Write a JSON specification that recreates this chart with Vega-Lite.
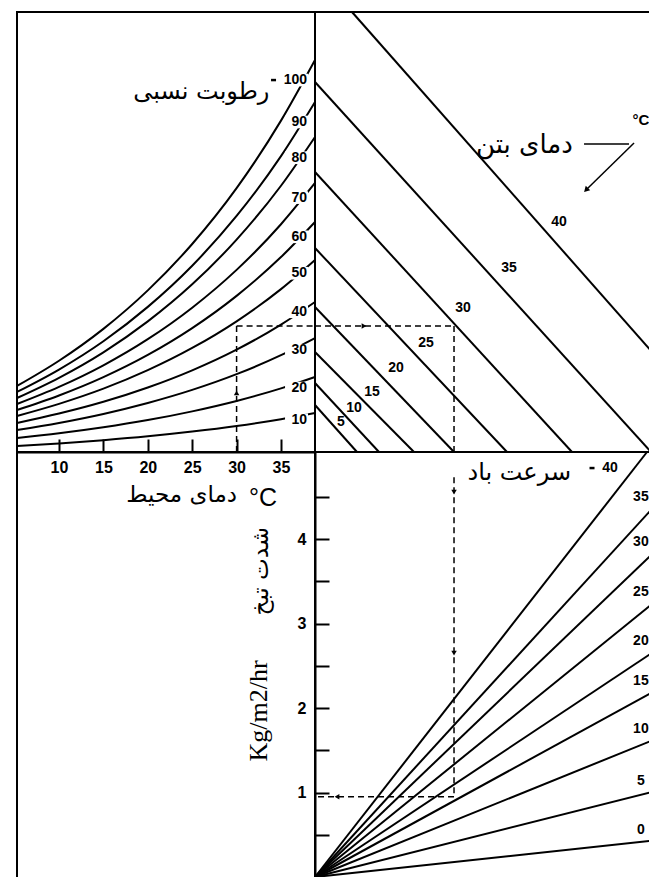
{
 "$schema": "https://vega.github.io/schema/vega-lite/v6.json",
 "background": "white",
 "padding": {"left": 12, "top": 11, "right": 0, "bottom": 0},
 "config": {"view": {"stroke": null}, "concat": {"spacing": 0}},
 "datasets": {
  "rh": [
   {"rh":100,"t":5.27,"p":0.960},{"rh":100,"t":10,"p":1.327},{"rh":100,"t":15,"p":1.791},{"rh":100,"t":20,"p":2.351},{"rh":100,"t":25,"p":3.025},{"rh":100,"t":30,"p":3.837},{"rh":100,"t":35,"p":4.820},{"rh":100,"t":38.83,"p":5.702},
   {"rh":90,"t":5.27,"p":0.873},{"rh":90,"t":10,"p":1.199},{"rh":90,"t":15,"p":1.611},{"rh":90,"t":20,"p":2.111},{"rh":90,"t":25,"p":2.710},{"rh":90,"t":30,"p":3.433},{"rh":90,"t":35,"p":4.304},{"rh":90,"t":38.83,"p":5.091},
   {"rh":80,"t":5.27,"p":0.785},{"rh":80,"t":10,"p":1.079},{"rh":80,"t":15,"p":1.450},{"rh":80,"t":20,"p":1.900},{"rh":80,"t":25,"p":2.439},{"rh":80,"t":30,"p":3.089},{"rh":80,"t":35,"p":3.873},{"rh":80,"t":38.83,"p":4.582},
   {"rh":70,"t":5.27,"p":0.698},{"rh":70,"t":10,"p":0.947},{"rh":70,"t":15,"p":1.261},{"rh":70,"t":20,"p":1.641},{"rh":70,"t":25,"p":2.099},{"rh":70,"t":30,"p":2.649},{"rh":70,"t":35,"p":3.313},{"rh":70,"t":38.83,"p":3.913},
   {"rh":60,"t":5.27,"p":0.611},{"rh":60,"t":10,"p":0.822},{"rh":60,"t":15,"p":1.089},{"rh":60,"t":20,"p":1.412},{"rh":60,"t":25,"p":1.802},{"rh":60,"t":30,"p":2.271},{"rh":60,"t":35,"p":2.835},{"rh":60,"t":38.83,"p":3.345},
   {"rh":50,"t":5.27,"p":0.524},{"rh":50,"t":10,"p":0.700},{"rh":50,"t":15,"p":0.921},{"rh":50,"t":20,"p":1.190},{"rh":50,"t":25,"p":1.513},{"rh":50,"t":30,"p":1.901},{"rh":50,"t":35,"p":2.369},{"rh":50,"t":38.83,"p":2.793},
   {"rh":40,"t":5.27,"p":0.422},{"rh":40,"t":10,"p":0.559},{"rh":40,"t":15,"p":0.730},{"rh":40,"t":20,"p":0.938},{"rh":40,"t":25,"p":1.188},{"rh":40,"t":30,"p":1.489},{"rh":40,"t":35,"p":1.853},{"rh":40,"t":38.83,"p":2.182},
   {"rh":30,"t":5.27,"p":0.320},{"rh":30,"t":10,"p":0.423},{"rh":30,"t":15,"p":0.554},{"rh":30,"t":20,"p":0.713},{"rh":30,"t":25,"p":0.903},{"rh":30,"t":30,"p":1.132},{"rh":30,"t":35,"p":1.408},{"rh":30,"t":38.83,"p":1.658},
   {"rh":20,"t":5.27,"p":0.204},{"rh":20,"t":10,"p":0.272},{"rh":20,"t":15,"p":0.359},{"rh":20,"t":20,"p":0.464},{"rh":20,"t":25,"p":0.591},{"rh":20,"t":30,"p":0.742},{"rh":20,"t":35,"p":0.925},{"rh":20,"t":38.83,"p":1.091},
   {"rh":10,"t":5.27,"p":0.087},{"rh":10,"t":10,"p":0.125},{"rh":10,"t":15,"p":0.172},{"rh":10,"t":20,"p":0.228},{"rh":10,"t":25,"p":0.297},{"rh":10,"t":30,"p":0.378},{"rh":10,"t":35,"p":0.477},{"rh":10,"t":38.83,"p":0.567}
  ],
  "rhLabels": [
   {"lab":"100","p":5.41},{"lab":"90","p":4.80},{"lab":"80","p":4.28},{"lab":"70","p":3.70},{"lab":"60","p":3.13},
   {"lab":"50","p":2.60},{"lab":"40","p":2.04},{"lab":"30","p":1.48},{"lab":"20","p":0.93},{"lab":"10","p":0.47}
  ],
  "concrete": [
   {"tc":5,"x0":0,"p0":0.684,"x1":0.611,"p1":0},
   {"tc":10,"x0":0,"p0":1.004,"x1":0.931,"p1":0},
   {"tc":15,"x0":0,"p0":1.455,"x1":1.44,"p1":0},
   {"tc":20,"x0":0,"p0":2.109,"x1":2.022,"p1":0},
   {"tc":25,"x0":0,"p0":2.967,"x1":2.793,"p1":0},
   {"tc":30,"x0":0,"p0":4.073,"x1":3.738,"p1":0},
   {"tc":35,"x0":0,"p0":5.382,"x1":4.887,"p1":0},
   {"tc":40,"x0":0.538,"p0":6.4,"x1":4.916,"p1":1.44}
  ],
  "concreteLabels": [
   {"tc":5,"x":0.378,"p":0.436},{"tc":10,"x":0.567,"p":0.640},{"tc":15,"x":0.829,"p":0.873},{"tc":20,"x":1.178,"p":1.222},
   {"tc":25,"x":1.615,"p":1.585},{"tc":30,"x":2.153,"p":2.095},{"tc":35,"x":2.822,"p":2.676},{"tc":40,"x":3.549,"p":3.345}
  ],
  "wind": [
   {"w":0,"x0":0,"r0":0,"x1":4.916,"r1":0.43},
   {"w":5,"x0":0,"r0":0,"x1":4.916,"r1":1.01},
   {"w":10,"x0":0,"r0":0,"x1":4.916,"r1":1.62},
   {"w":15,"x0":0,"r0":0,"x1":4.916,"r1":2.19},
   {"w":20,"x0":0,"r0":0,"x1":4.916,"r1":2.66},
   {"w":25,"x0":0,"r0":0,"x1":4.916,"r1":3.24},
   {"w":30,"x0":0,"r0":0,"x1":4.916,"r1":3.83},
   {"w":35,"x0":0,"r0":0,"x1":4.916,"r1":4.37},
   {"w":40,"x0":0,"r0":0,"x1":4.829,"r1":5.03}
  ]
 },
 "columns": 2,
 "spacing": 0,
 "bounds": "flush",
 "concat": [
    {
     "width": 298, "height": 440,
     "view": {"stroke": "black", "strokeWidth": 2},
     "layer": [
      {"data": {"name": "rh"},
       "mark": {"type": "line", "interpolate": "monotone", "color": "black", "strokeWidth": 2},
       "encoding": {
        "x": {"field": "t", "type": "quantitative", "scale": {"domain": [5.27, 38.83], "nice": false, "zero": false},
              "axis": {"values": [10, 15, 20, 25, 30, 35], "tickSize": -13, "labelPadding": 20, "title": null, "grid": false,
                       "labelFontSize": 16, "labelFont": "Liberation Sans", "labelFontWeight": "bold", "labelColor": "black",
                       "domainColor": "black", "domainWidth": 2, "tickColor": "black", "tickWidth": 2, "labelFlush": false, "labelOverlap": false}},
        "y": {"field": "p", "type": "quantitative", "scale": {"domain": [0, 6.4], "nice": false, "zero": false}, "axis": null},
        "detail": {"field": "rh", "type": "nominal"}}},
      {"data": {"values": [{"t0": 30, "p0": 0, "t1": 30, "p1": 1.833}, {"t0": 30, "p0": 1.833, "t1": 38.83, "p1": 1.833}]},
       "mark": {"type": "rule", "strokeDash": [6, 4], "strokeWidth": 1.5, "color": "black"},
       "encoding": {"x": {"field": "t0", "type": "quantitative"}, "y": {"field": "p0", "type": "quantitative"},
                    "x2": {"field": "t1"}, "y2": {"field": "p1"}}},
      {"data": {"values": [{"t": 30, "p": 0.86}]},
       "mark": {"type": "point", "shape": "triangle-up", "filled": true, "color": "black", "size": 30, "opacity": 1},
       "encoding": {"x": {"field": "t", "type": "quantitative"}, "y": {"field": "p", "type": "quantitative"}}},
      {"data": {"name": "rhLabels"},
       "mark": {"type": "point", "shape": "M-1,-0.55H1V0.55H-1Z", "size": 529, "filled": true, "color": "white", "opacity": 1},
       "encoding": {"x": {"datum": 36.75, "type": "quantitative"}, "y": {"field": "p", "type": "quantitative"}}},
      {"data": {"name": "rhLabels"},
       "mark": {"type": "text", "align": "right", "baseline": "middle", "font": "Liberation Sans", "fontWeight": "bold", "fontSize": 14, "color": "black"},
       "encoding": {"x": {"datum": 37.93, "type": "quantitative"}, "y": {"field": "p", "type": "quantitative"}, "text": {"field": "lab"}}},
      {"data": {"values": [{"p": 5.41}]},
       "mark": {"type": "point", "shape": "M-1,-0.5H1V0.5H-1Z", "size": 25, "filled": true, "color": "black", "opacity": 1},
       "encoding": {"x": {"datum": 34.16, "type": "quantitative"}, "y": {"field": "p", "type": "quantitative"}}},
      {"data": {"values": [{"note": "رطوبت نسبی"}]},
       "mark": {"type": "text", "align": "right", "baseline": "middle", "font": "DejaVu Sans", "fontSize": 24, "color": "black"},
       "encoding": {"x": {"datum": 33.7, "type": "quantitative"}, "y": {"datum": 5.236, "type": "quantitative"}, "text": {"field": "note"}}}
     ]
    },
    {
     "width": 338, "height": 440,
     "layer": [
      {"data": {"name": "concrete"},
       "mark": {"type": "rule", "color": "black", "strokeWidth": 2},
       "encoding": {
        "x": {"field": "x0", "type": "quantitative", "scale": {"domain": [0, 4.916], "nice": false, "zero": false}, "axis": null},
        "y": {"field": "p0", "type": "quantitative", "scale": {"domain": [0, 6.4], "nice": false, "zero": false}, "axis": null},
        "x2": {"field": "x1"}, "y2": {"field": "p1"}}},
      {"data": {"name": "concreteLabels"},
       "mark": {"type": "text", "align": "center", "baseline": "middle", "font": "Liberation Sans", "fontWeight": "bold", "fontSize": 14, "color": "black"},
       "encoding": {"x": {"field": "x", "type": "quantitative"}, "y": {"field": "p", "type": "quantitative"}, "text": {"field": "tc"}}},
      {"data": {"values": [{"p": 6.4}, {"p": 0}]},
       "mark": {"type": "rule", "color": "black", "strokeWidth": 2},
       "encoding": {"y": {"field": "p", "type": "quantitative"}}},
      {"data": {"values": [{"x0": 0, "p0": 1.833, "x1": 2.022, "p1": 1.833}, {"x0": 2.022, "p0": 1.833, "x1": 2.022, "p1": 0}]},
       "mark": {"type": "rule", "strokeDash": [6, 4], "strokeWidth": 1.5, "color": "black"},
       "encoding": {"x": {"field": "x0", "type": "quantitative"}, "y": {"field": "p0", "type": "quantitative"},
                    "x2": {"field": "x1"}, "y2": {"field": "p1"}}},
      {"data": {"values": [{"x": 0.713, "p": 1.833}]},
       "mark": {"type": "point", "shape": "triangle-right", "filled": true, "color": "black", "size": 30, "opacity": 1},
       "encoding": {"x": {"field": "x", "type": "quantitative"}, "y": {"field": "p", "type": "quantitative"}}},
      {"data": {"values": [{"x0": 3.913, "p0": 4.48, "x1": 4.567, "p1": 4.48}, {"x0": 4.64, "p0": 4.495, "x1": 3.96, "p1": 3.83}]},
       "mark": {"type": "rule", "strokeWidth": 1.5, "color": "black"},
       "encoding": {"x": {"field": "x0", "type": "quantitative"}, "y": {"field": "p0", "type": "quantitative"},
                    "x2": {"field": "x1"}, "y2": {"field": "p1"}}},
      {"data": {"values": [{"x": 3.942, "p": 3.811}]},
       "mark": {"type": "point", "shape": "triangle-down", "angle": 45, "filled": true, "color": "black", "size": 40, "opacity": 1},
       "encoding": {"x": {"field": "x", "type": "quantitative"}, "y": {"field": "p", "type": "quantitative"}}},
      {"data": {"values": [{"note": "دمای بتن"}]},
       "mark": {"type": "text", "align": "right", "baseline": "middle", "font": "DejaVu Sans", "fontSize": 26, "color": "black"},
       "encoding": {"x": {"datum": 3.75, "type": "quantitative"}, "y": {"datum": 4.465, "type": "quantitative"}, "text": {"field": "note"}}},
      {"data": {"values": [{"note": "°C"}]},
       "mark": {"type": "text", "align": "center", "baseline": "middle", "font": "Liberation Sans", "fontWeight": "bold", "fontSize": 15, "color": "black"},
       "encoding": {"x": {"datum": 4.742, "type": "quantitative"}, "y": {"datum": 4.829, "type": "quantitative"}, "text": {"field": "note"}}}
     ]
    },
    {
     "width": 298, "height": 426,
     "view": {"stroke": "black", "strokeWidth": 2},
     "layer": [
      {"data": {"values": [{"note": "دمای محیط"}]},
       "mark": {"type": "text", "align": "right", "baseline": "middle", "font": "DejaVu Sans", "fontSize": 23, "color": "black"},
       "encoding": {"x": {"datum": 30.05, "type": "quantitative", "scale": {"domain": [5.27, 38.83], "nice": false, "zero": false}, "axis": null},
                    "y": {"datum": 4.53, "type": "quantitative", "scale": {"domain": [0, 5.04], "nice": false, "zero": false}, "axis": null},
                    "text": {"field": "note"}}},
      {"data": {"values": [{"note": "°C"}]},
       "mark": {"type": "text", "align": "left", "baseline": "middle", "font": "Liberation Sans", "fontSize": 25, "color": "black"},
       "encoding": {"x": {"datum": 31.4, "type": "quantitative"}, "y": {"datum": 4.5, "type": "quantitative"}, "text": {"field": "note"}}},
      {"data": {"values": [{"note": "Kg/m2/hr"}]},
       "mark": {"type": "text", "align": "center", "baseline": "middle", "angle": 270, "font": "Liberation Serif", "fontSize": 26, "color": "black"},
       "encoding": {"x": {"datum": 32.52, "type": "quantitative"}, "y": {"datum": 1.976, "type": "quantitative"}, "text": {"field": "note"}}},
      {"data": {"values": [{"note": "شدت تبخ"}]},
       "mark": {"type": "text", "align": "center", "baseline": "middle", "angle": 270, "font": "DejaVu Sans", "fontSize": 23, "color": "black"},
       "encoding": {"x": {"datum": 32.75, "type": "quantitative"}, "y": {"datum": 3.63, "type": "quantitative"}, "text": {"field": "note"}}}
     ]
    },
    {
     "width": 338, "height": 425,
     "layer": [
      {"data": {"name": "wind"},
       "mark": {"type": "rule", "color": "black", "strokeWidth": 2},
       "encoding": {
        "x": {"field": "x0", "type": "quantitative", "scale": {"domain": [0, 4.916], "nice": false, "zero": false}, "axis": null},
        "y": {"field": "r0", "type": "quantitative", "scale": {"domain": [0, 5.03], "nice": false, "zero": false},
              "axis": {"values": [0.5, 1, 1.5, 2, 2.5, 3, 3.5, 4, 4.5], "tickSize": -14, "labelPadding": 23,
                       "labelExpr": "datum.value % 1 === 0 ? toString(datum.value) : ''", "title": null, "grid": false,
                       "labelFontSize": 16, "labelFont": "Liberation Sans", "labelFontWeight": "bold", "labelColor": "black",
                       "domainColor": "black", "domainWidth": 2, "tickColor": "black", "tickWidth": 2, "labelFlush": false, "labelOverlap": false}},
        "x2": {"field": "x1"}, "y2": {"field": "r1"}}},
      {"data": {"name": "wind"},
       "transform": [{"filter": "datum.w < 40"}],
       "mark": {"type": "text", "align": "center", "baseline": "middle", "dy": -11, "font": "Liberation Sans", "fontWeight": "bold", "fontSize": 14, "color": "black"},
       "encoding": {"x": {"datum": 4.74, "type": "quantitative"}, "y": {"field": "r1", "type": "quantitative"}, "text": {"field": "w"}}},
      {"data": {"name": "wind"},
       "transform": [{"filter": "datum.w == 40"}],
       "mark": {"type": "text", "align": "center", "baseline": "middle", "font": "Liberation Sans", "fontWeight": "bold", "fontSize": 14, "color": "black"},
       "encoding": {"x": {"datum": 4.29, "type": "quantitative"}, "y": {"datum": 4.84, "type": "quantitative"}, "text": {"field": "w"}}},
      {"data": {"values": [{"r": 4.84}]},
       "mark": {"type": "point", "shape": "M-1,-0.5H1V0.5H-1Z", "size": 25, "filled": true, "color": "black", "opacity": 1},
       "encoding": {"x": {"datum": 4.029, "type": "quantitative"}, "y": {"field": "r", "type": "quantitative"}}},
      {"data": {"values": [{"note": "سرعت باد"}]},
       "mark": {"type": "text", "align": "right", "baseline": "middle", "font": "DejaVu Sans", "fontSize": 24, "color": "black"},
       "encoding": {"x": {"datum": 3.724, "type": "quantitative"}, "y": {"datum": 4.78, "type": "quantitative"}, "text": {"field": "note"}}},
      {"data": {"values": [{"x0": 2.022, "r0": 4.73, "x1": 2.022, "r1": 0.95}, {"x0": 2.022, "r0": 0.95, "x1": 0, "r1": 0.95}]},
       "mark": {"type": "rule", "strokeDash": [6, 4], "strokeWidth": 1.5, "color": "black"},
       "encoding": {"x": {"field": "x0", "type": "quantitative"}, "y": {"field": "r0", "type": "quantitative"},
                    "x2": {"field": "x1"}, "y2": {"field": "r1"}}},
      {"data": {"values": [{"x": 2.022, "r": 4.556, "s": "triangle-down"}, {"x": 2.022, "r": 2.65, "s": "triangle-down"}, {"x": 0.32, "r": 0.95, "s": "triangle-left"}]},
       "mark": {"type": "point", "filled": true, "color": "black", "size": 30, "opacity": 1},
       "encoding": {"x": {"field": "x", "type": "quantitative"}, "y": {"field": "r", "type": "quantitative"},
                    "shape": {"field": "s", "type": "nominal", "scale": null}}}
     ]
    }
 ]
}
